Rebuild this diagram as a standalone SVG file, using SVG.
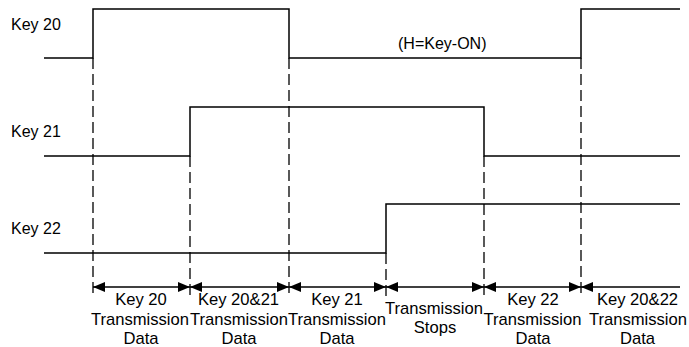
<svg xmlns="http://www.w3.org/2000/svg" width="689" height="347" viewBox="0 0 689 347">
<style>
.wave{fill:none;stroke:#000;stroke-width:1.5}
.dash{fill:none;stroke:#000;stroke-width:1.3;stroke-dasharray:11 5}
.arr{fill:none;stroke:#000;stroke-width:1.3}
text{font-family:"Liberation Sans",Arial,sans-serif;font-size:16px;fill:#000}
.c{text-anchor:middle;font-size:16.6px}
</style>
<defs>
<marker id="ah" viewBox="0 0 12 10" refX="12" refY="5" markerWidth="12" markerHeight="10" markerUnits="userSpaceOnUse" orient="auto-start-reverse">
<path d="M0,0 L12,5 L0,10 Z" fill="#000"/>
</marker>
</defs>
<rect width="689" height="347" fill="#fff"/>
<g id="key20">
<text x="11" y="30">Key 20</text>
<path class="wave" d="M44 58 H93 V9 H289 V58 H581 V9 H680"/>
<text x="398" y="49">(H=Key-ON)</text>
</g>
<g id="key21">
<text x="11" y="136.5">Key 21</text>
<path class="wave" d="M44 156 H190 V107 H484 V156 H680"/>
</g>
<g id="key22">
<text x="11" y="234">Key 22</text>
<path class="wave" d="M44 253 H386 V204 H680"/>
</g>
<g id="connectors">
<path class="dash" d="M93 58 V298 M190 156 V298 M289 58 V298 M386 253 V298 M484 156 V298 M581 58 V298"/>
<line class="arr" x1="93" y1="287" x2="190" y2="287" marker-start="url(#ah)" marker-end="url(#ah)"/>
<line class="arr" x1="190" y1="287" x2="289" y2="287" marker-start="url(#ah)" marker-end="url(#ah)"/>
<line class="arr" x1="289" y1="287" x2="386" y2="287" marker-start="url(#ah)" marker-end="url(#ah)"/>
<line class="arr" x1="386" y1="287" x2="484" y2="287" marker-start="url(#ah)" marker-end="url(#ah)"/>
<line class="arr" x1="484" y1="287" x2="581" y2="287" marker-start="url(#ah)" marker-end="url(#ah)"/>
<line class="arr" x1="581" y1="287" x2="680" y2="287" marker-start="url(#ah)"/>
</g>
<g id="seg1">
<text class="c" x="141" y="305">Key 20</text>
<text class="c" x="140" y="324.5">Transmission</text>
<text class="c" x="141" y="344">Data</text>
</g>
<g id="seg2">
<text class="c" x="238.5" y="305">Key 20&amp;21</text>
<text class="c" x="239" y="324.5">Transmission</text>
<text class="c" x="239" y="344">Data</text>
</g>
<g id="seg3">
<text class="c" x="337" y="305">Key 21</text>
<text class="c" x="337" y="324.5">Transmission</text>
<text class="c" x="337" y="344">Data</text>
</g>
<g id="seg4">
<text class="c" x="434" y="313.5">Transmission</text>
<text class="c" x="435" y="333">Stops</text>
</g>
<g id="seg5">
<text class="c" x="533" y="305">Key 22</text>
<text class="c" x="532.5" y="324.5">Transmission</text>
<text class="c" x="533" y="344">Data</text>
</g>
<g id="seg6">
<text class="c" x="637.5" y="305">Key 20&amp;22</text>
<text class="c" x="638" y="324.5">Transmission</text>
<text class="c" x="637.5" y="344">Data</text>
</g>
</svg>
